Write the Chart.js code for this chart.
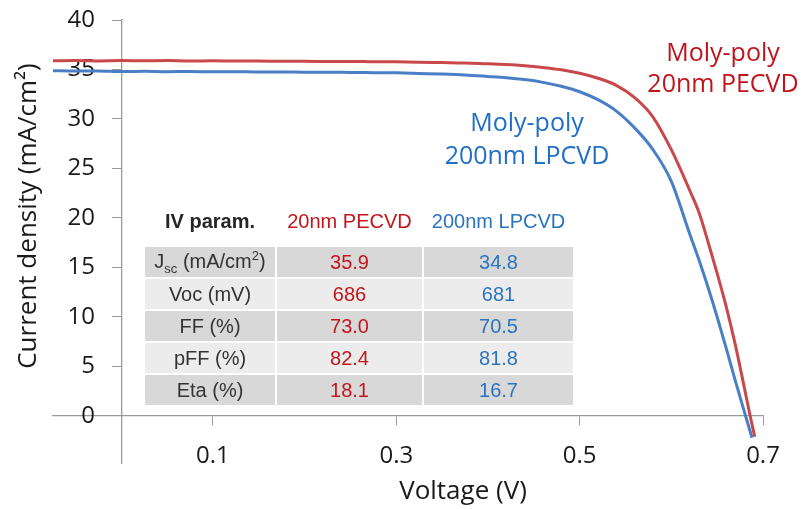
<!DOCTYPE html>
<html>
<head>
<meta charset="utf-8">
<script src="https://cdn.jsdelivr.net/npm/chart.js@4.4.1/dist/chart.umd.min.js"></script>
<style>
  html, body { margin: 0; padding: 0; background: #fff; }
  #wrap { position: relative; width: 801px; height: 509px; }
  #ivChart { position: absolute; left: 0; top: 0; }
  .note { position: absolute; font: 25px "Open Sans", sans-serif; text-align: center; white-space: nowrap; }
  .note.red { color: #c0141c; line-height: 31px; }
  .note.blue { color: #1f6fc5; line-height: 33px; }
  #params { position: absolute; left: 145px; top: 206px; font: 20px "Liberation Sans", Arial, sans-serif; color: #333; }
  #params .row { display: grid; grid-template-columns: 130px 145px 149px; column-gap: 2px; height: 30px; margin-bottom: 2px; }
  #params .row > div { display: flex; align-items: center; justify-content: center; }
  #params .head { margin-bottom: 11px; }
  #params .head > div:first-child { font-weight: bold; color: #262626; }
  #params .dark > div { background: #d9d8d8; }
  #params .light > div { background: #ececec; }
  #params .red { color: #c3161c; }
  #params .blue { color: #2a74bf; }
  #params sub, #params sup { font-size: 13px; }
</style>
</head>
<body>
<div id="wrap">
  <canvas id="ivChart" width="801" height="509"></canvas>
  <div class="note red" style="left:643px; top:36px; width:160px;">Moly-poly<br>20nm PECVD</div>
  <div class="note blue" style="left:437px; top:105px; width:180px;">Moly-poly<br>200nm LPCVD</div>
  <div id="params"></div>
</div>
<script>
// J-V sweeps (V in volts, J in mA/cm2)
const pecvdVoltage = [-0.0745, -0.05, -0.025, 0, 0.025, 0.05, 0.075, 0.1, 0.125, 0.15, 0.175, 0.2, 0.225, 0.25, 0.275, 0.3, 0.325, 0.35, 0.375, 0.4, 0.42, 0.44, 0.46, 0.48, 0.5, 0.52, 0.54, 0.56, 0.58, 0.6, 0.62, 0.63, 0.64, 0.65, 0.66, 0.67, 0.68, 0.686, 0.691];
const pecvdCurrent = [35.88, 35.9, 35.87, 35.9, 35.88, 35.9, 35.86, 35.88, 35.85, 35.86, 35.83, 35.84, 35.8, 35.82, 35.78, 35.77, 35.74, 35.7, 35.66, 35.57, 35.5, 35.38, 35.2, 34.97, 34.62, 34.12, 33.4, 32.15, 30.2, 26.9, 22.8, 20.6, 17.6, 14.4, 11.0, 7.1, 2.7, 0, -2.1];

const lpcvdVoltage = [-0.0745, -0.05, -0.025, 0, 0.025, 0.05, 0.075, 0.1, 0.125, 0.15, 0.175, 0.2, 0.225, 0.25, 0.275, 0.3, 0.325, 0.35, 0.375, 0.4, 0.42, 0.44, 0.46, 0.48, 0.5, 0.52, 0.54, 0.56, 0.58, 0.6, 0.62, 0.63, 0.64, 0.65, 0.66, 0.67, 0.681, 0.688];
const lpcvdCurrent = [34.88, 34.84, 34.86, 34.8, 34.82, 34.78, 34.8, 34.76, 34.78, 34.74, 34.75, 34.72, 34.73, 34.7, 34.68, 34.66, 34.6, 34.54, 34.45, 34.3, 34.17, 33.98, 33.7, 33.3, 32.75, 31.95, 30.8, 29.1, 26.9, 23.7, 18.4, 15.8, 13.0, 10.0, 6.8, 3.5, 0, -2.2];

const voltageTicks = [0.1, 0.3, 0.5, 0.7];
const currentTicks = [0, 5, 10, 15, 20, 25, 30, 35, 40];

// cell parameters table
const paramNames = ['J<sub>sc</sub> (mA/cm<sup>2</sup>)', 'Voc (mV)', 'FF (%)', 'pFF (%)', 'Eta (%)'];
const pecvdParams = ['35.9', '686', '73.0', '82.4', '18.1'];
const lpcvdParams = ['34.8', '681', '70.5', '81.8', '16.7'];

const table = document.getElementById('params');
let html = '<div class="row head"><div>IV param.</div><div class="red">20nm PECVD</div><div class="blue">200nm LPCVD</div></div>';
paramNames.forEach((name, i) => {
  html += '<div class="row ' + (i % 2 ? 'light' : 'dark') + '">' +
    '<div><span>' + name + '</span></div>' +
    '<div class="red">' + pecvdParams[i] + '</div>' +
    '<div class="blue">' + lpcvdParams[i] + '</div></div>';
});
table.innerHTML = html;

const toPoints = (xs, ys) => xs.map((v, i) => ({ x: v, y: ys[i] }));

const axisTitles = {
  id: 'axisTitles',
  afterDraw(chart) {
    const ctx = chart.ctx;
    ctx.save();
    ctx.fillStyle = '#1a1a1a';
    ctx.font = '26px "Open Sans"';
    ctx.textAlign = 'center';
    ctx.textBaseline = 'middle';
    ctx.fillText('Voltage (V)', 463, 492);
    ctx.translate(29, 216);
    ctx.rotate(-Math.PI / 2);
    ctx.fillText('Current density (mA/cm\u00b2)', 0, 0);
    ctx.restore();
  }
};

const axisFont = { family: 'Open Sans', size: 24 };
const axisGrey = '#9a9a9a';
const jMin = -4.75;
const jMax = 40;
// voltage at which the right edge of the current labels sits, left of the V = 0 axis
const labelEdgeV = -0.0287;

new Chart(document.getElementById('ivChart'), {
  type: 'line',
  data: {
    datasets: [
      {
        label: 'Moly-poly 20nm PECVD',
        data: toPoints(pecvdVoltage, pecvdCurrent),
        borderColor: '#c9484a',
        borderWidth: 3,
        pointRadius: 0,
        cubicInterpolationMode: 'monotone',
      },
      {
        label: 'Moly-poly 200nm LPCVD',
        data: toPoints(lpcvdVoltage, lpcvdCurrent),
        borderColor: '#4a7fc6',
        borderWidth: 3,
        pointRadius: 0,
        cubicInterpolationMode: 'monotone',
      },
    ],
  },
  options: {
    responsive: false,
    animation: false,
    layout: { padding: { top: 20, right: 38, bottom: 46, left: 53 } },
    plugins: {
      legend: { display: false },
      tooltip: { enabled: false },
    },
    scales: {
      x: {
        type: 'linear',
        position: { y: 0 },
        min: -0.0745,
        max: 0.7,
        afterBuildTicks: (s) => { s.ticks = voltageTicks.map((v) => ({ value: v })); },
        grid: { drawOnChartArea: false, tickLength: 9, tickColor: axisGrey },
        border: { color: axisGrey, width: 1.3 },
        ticks: { padding: 17, color: '#1a1a1a', font: axisFont, maxRotation: 0, callback: (v) => v.toFixed(1) },
      },
      // axis line and tick marks at V = 0
      y: {
        type: 'linear',
        position: { x: 0 },
        min: jMin,
        max: jMax,
        afterBuildTicks: (s) => { s.ticks = currentTicks.map((v) => ({ value: v })); },
        grid: { drawOnChartArea: false, tickLength: 9, tickColor: axisGrey },
        border: { color: axisGrey, width: 1.3 },
        ticks: { display: false },
      },
      // tick labels for the same axis, set back from the tick marks
      yLabels: {
        type: 'linear',
        axis: 'y',
        position: { x: labelEdgeV },
        min: jMin,
        max: jMax,
        afterBuildTicks: (s) => { s.ticks = currentTicks.map((v) => ({ value: v })); },
        grid: { display: false, drawTicks: false },
        border: { display: false },
        ticks: { color: '#1a1a1a', font: axisFont },
      },
    },
  },
  plugins: [axisTitles],
});
</script>
</body>
</html>
